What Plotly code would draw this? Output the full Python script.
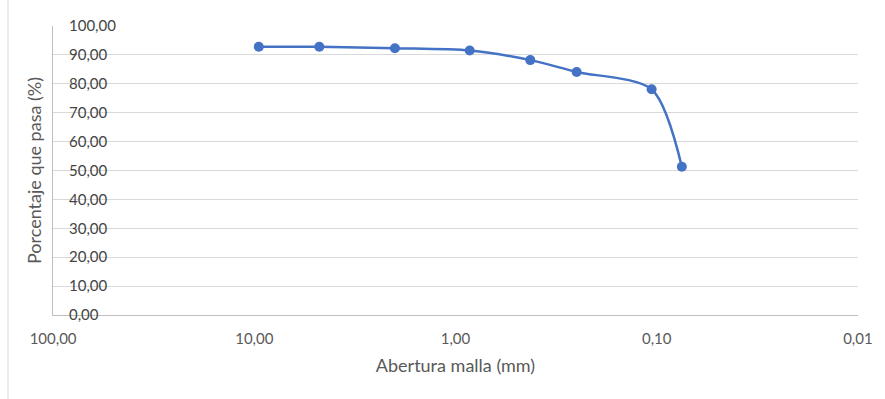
import plotly.graph_objects as go

# Data
abertura_mm = [9.5, 4.75, 2.0, 0.85, 0.425, 0.25, 0.106, 0.075]
porcentaje_pasa = [92.8, 92.8, 92.3, 91.5, 88.2, 84.1, 78.1, 51.3]

x_tick_vals = [100, 10, 1, 0.1, 0.01]
x_tick_text = ["100,00", "10,00", "1,00", "0,10", "0,01"]
y_tick_vals = [0, 10, 20, 30, 40, 50, 60, 70, 80, 90, 100]
y_tick_text = ["0,00", "10,00", "20,00", "30,00", "40,00", "50,00",
               "60,00", "70,00", "80,00", "90,00", "100,00"]

W, H = 885, 399
ML, MR, MT, MB = 53, 27, 26, 84
plot_w = W - ML - MR

font_family = "Lato, 'Open Sans', sans-serif"
txt_color = "#595959"

fig = go.Figure()
fig.add_trace(go.Scatter(
    x=abertura_mm, y=porcentaje_pasa,
    mode="lines+markers",
    line=dict(color="#4472C4", width=2.5, shape="spline", smoothing=0.8),
    marker=dict(color="#4472C4", size=10),
    showlegend=False,
))

fig.update_layout(
    width=W, height=H,
    margin=dict(l=ML, r=MR, t=MT, b=MB, autoexpand=False),
    paper_bgcolor="white", plot_bgcolor="white",
    font=dict(family=font_family, size=15, color=txt_color),
    xaxis=dict(
        type="log", range=[2.0005, -2.0005],
        tickvals=x_tick_vals, ticktext=x_tick_text,
        showgrid=False, zeroline=False,
        showline=True, linecolor="#BFBFBF", linewidth=1,
        ticks="", ticklabelstandoff=10,
        automargin=False,
        title=dict(text="Abertura malla (mm)", standoff=13,
                   font=dict(size=18, color=txt_color)),
    ),
    yaxis=dict(
        range=[0, 100],
        tickvals=y_tick_vals, ticktext=y_tick_text,
        showgrid=True, gridcolor="#D9D9D9", gridwidth=1,
        zeroline=False,
        showline=True, linecolor="#BFBFBF", linewidth=1,
        ticks="", ticklabelposition="inside", ticklabelstandoff=16,
        ticklabeloverflow="allow",
        automargin=False,
        title=dict(text="Porcentaje que pasa (%)", standoff=22,
                   font=dict(size=18, color=txt_color)),
    ),
)

# outer chart border fragment at the far left
fig.add_shape(type="line", xref="paper", yref="paper",
              x0=(8 - ML) / plot_w, x1=(8 - ML) / plot_w,
              y0=-MB / (H - MT - MB), y1=1 + MT / (H - MT - MB),
              line=dict(color="#D9D9D9", width=1))

fig.write_html("out.html",
               config={"displayModeBar": False},
               post_script="document.body.style.margin='0';")
